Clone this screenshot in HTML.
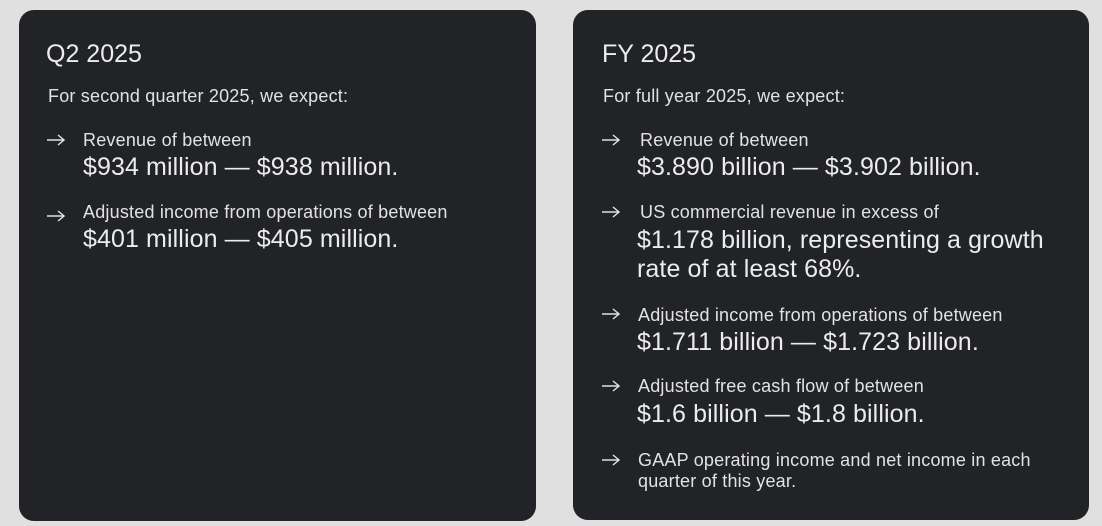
<!DOCTYPE html>
<html><head><meta charset="utf-8"><style>
html,body{margin:0;padding:0;width:1102px;height:526px;background:#e0e0e0;overflow:hidden;font-family:"Liberation Sans",sans-serif;}
.card{position:absolute;background:#212327;border-radius:15px;}
.t{position:absolute;line-height:30px;height:30px;color:#ececec;white-space:nowrap;}
.h{font-size:25px;}
.s{font-size:18px;color:#e2e2e2;letter-spacing:0.2px;}
.b{font-size:25px;letter-spacing:0.1px;}
svg.a{position:absolute;width:18px;height:12px;}
</style></head><body>
<div class="card" style="left:19px;top:10px;width:517px;height:511px"></div>
<div class="card" style="left:573px;top:10px;width:516px;height:510px"></div>

<div class="t h" style="left:46px;top:39px">Q2 2025</div>
<div class="t s" style="left:48px;top:81px">For second quarter 2025, we expect:</div>
<svg class="a" style="left:47px;top:134px"><path d="M0 6H17M11 1L17 6L11 11" stroke="#e2e2e2" stroke-width="1.4" fill="none"/></svg>
<div class="t s" style="left:83px;top:125px">Revenue of between</div>
<div class="t b" style="left:83px;top:152px">$934 million — $938 million.</div>
<svg class="a" style="left:47px;top:210px"><path d="M0 6H17M11 1L17 6L11 11" stroke="#e2e2e2" stroke-width="1.4" fill="none"/></svg>
<div class="t s" style="left:83px;top:197px">Adjusted income from operations of between</div>
<div class="t b" style="left:83px;top:224px">$401 million — $405 million.</div>

<div class="t h" style="left:602px;top:39px">FY 2025</div>
<div class="t s" style="left:603px;top:81px">For full year 2025, we expect:</div>
<svg class="a" style="left:602px;top:134px"><path d="M0 6H17M11 1L17 6L11 11" stroke="#e2e2e2" stroke-width="1.4" fill="none"/></svg>
<div class="t s" style="left:640px;top:125px">Revenue of between</div>
<div class="t b" style="left:637px;top:152px">$3.890 billion — $3.902 billion.</div>
<svg class="a" style="left:602px;top:206px"><path d="M0 6H17M11 1L17 6L11 11" stroke="#e2e2e2" stroke-width="1.4" fill="none"/></svg>
<div class="t s" style="left:640px;top:197px">US commercial revenue in excess of</div>
<div class="t b" style="left:637px;top:225px">$1.178 billion, representing a growth</div>
<div class="t b" style="left:637px;top:254px">rate of at least 68%.</div>
<svg class="a" style="left:602px;top:308px"><path d="M0 6H17M11 1L17 6L11 11" stroke="#e2e2e2" stroke-width="1.4" fill="none"/></svg>
<div class="t s" style="left:638px;top:300px">Adjusted income from operations of between</div>
<div class="t b" style="left:637px;top:327px">$1.711 billion — $1.723 billion.</div>
<svg class="a" style="left:602px;top:380px"><path d="M0 6H17M11 1L17 6L11 11" stroke="#e2e2e2" stroke-width="1.4" fill="none"/></svg>
<div class="t s" style="left:638px;top:371px">Adjusted free cash flow of between</div>
<div class="t b" style="left:637px;top:399px">$1.6 billion — $1.8 billion.</div>
<svg class="a" style="left:602px;top:454px"><path d="M0 6H17M11 1L17 6L11 11" stroke="#e2e2e2" stroke-width="1.4" fill="none"/></svg>
<div class="t s" style="left:638px;top:445px">GAAP operating income and net income in each</div>
<div class="t s" style="left:638px;top:466px">quarter of this year.</div>
</body></html>
